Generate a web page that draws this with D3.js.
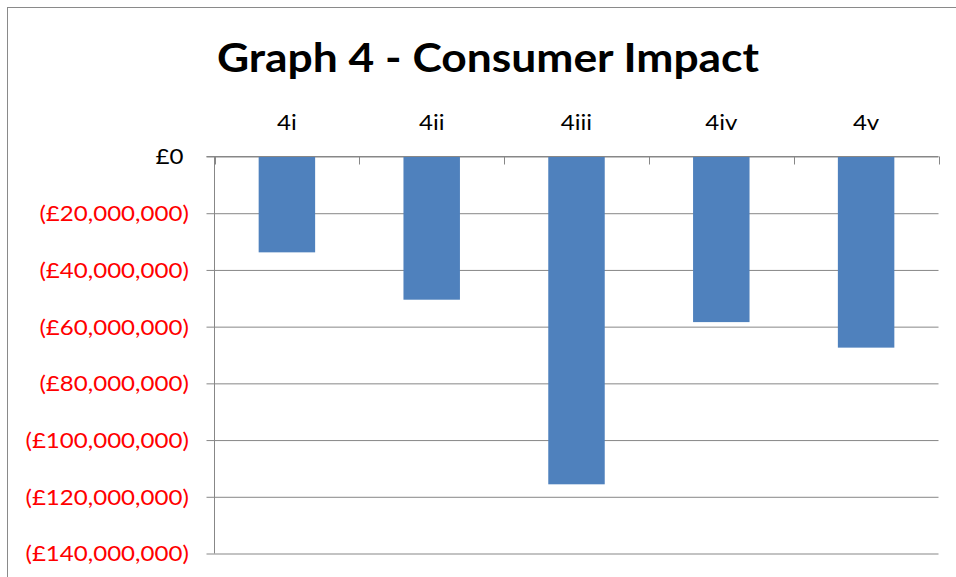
<!DOCTYPE html>
<html>
<head>
<meta charset="utf-8">
<script src="https://cdn.jsdelivr.net/npm/d3@7"></script>
<style>
  html, body { margin: 0; padding: 0; background: #fff; }
  svg { display: block; }
  text { font-family: Lato, "Open Sans", sans-serif; }
</style>
</head>
<body>
<svg id="chart" width="956" height="577"></svg>
<script>
// ---- data ----
const title = "Graph 4 - Consumer Impact";
const categories = ["4i", "4ii", "4iii", "4iv", "4v"];
const values = [-33.8e6, -50.5e6, -115.6e6, -58.4e6, -67.4e6];
const yTicks = [0, -20e6, -40e6, -60e6, -80e6, -100e6, -120e6, -140e6];
const yTickLabels = ["£0", "(£20,000,000)", "(£40,000,000)", "(£60,000,000)", "(£80,000,000)", "(£100,000,000)", "(£120,000,000)", "(£140,000,000)"];

// ---- layout ----
const svg = d3.select("#chart");
const pLeft = 214.5, pRight = 938.5, pTop = 156.5, pBottom = 553.5;
const gridColor = "#878787";
const labelSize = 20.5;

svg.append("rect")
  .attr("x", 7.5).attr("y", 7.5)
  .attr("width", 1000).attr("height", 700)
  .attr("fill", "none").attr("stroke", "#8a8a8a").attr("stroke-width", 1);

const x = d3.scaleBand().domain(categories).range([pLeft, pRight])
  .paddingInner(0.61).paddingOuter(0.305);
const y = d3.scaleLinear().domain([-140e6, 0]).range([pBottom, pTop]);

// measure horizontal stretch so that label widths match the original rendering
const probe = svg.append("text").attr("font-size", labelSize).text("(£20,000,000)");
const stretch = 149.4 / probe.node().getComputedTextLength();
probe.remove();

// gridlines + y ticks
const yAxis = d3.axisLeft(y)
  .tickValues(yTicks)
  .tickSize(8)
  .tickFormat((d, i) => yTickLabels[i]);
const gy = svg.append("g").attr("transform", `translate(${pLeft},0)`).call(yAxis);
gy.select(".domain").remove();
gy.selectAll(".tick line").attr("stroke", gridColor).attr("x1", -8).attr("x2", pRight - pLeft);
gy.selectAll(".tick text")
  .attr("font-size", labelSize)
  .attr("font-family", "Lato, sans-serif")
  .attr("text-anchor", "start")
  .attr("dy", "0.36em")
  .attr("fill", (d) => d < 0 ? "#ff0000" : "#000")
  .each(function (d) {
    const w = this.getComputedTextLength() * stretch;
    const endX = (d === 0 ? 183.5 : 188.8) - pLeft;
    d3.select(this)
      .attr("textLength", w)
      .attr("lengthAdjust", "spacingAndGlyphs")
      .attr("x", endX - w);
  });

// left axis line
svg.append("line")
  .attr("x1", pLeft).attr("x2", pLeft).attr("y1", pTop).attr("y2", pBottom)
  .attr("stroke", gridColor);

// bars
svg.append("g").selectAll("rect").data(categories).join("rect")
  .attr("x", (d) => x(d))
  .attr("width", x.bandwidth())
  .attr("y", (d, i) => y(0))
  .attr("height", (d, i) => y(values[i]) - y(0))
  .attr("fill", "#4f81bd");

// category axis at zero with ticks pointing down at band boundaries
const bounds = categories.map((c) => x(c) - x.step() * x.paddingOuter()).concat([pRight]);
svg.append("line")
  .attr("x1", pLeft - 8).attr("x2", pRight).attr("y1", y(0)).attr("y2", y(0))
  .attr("stroke", gridColor);
svg.append("g").selectAll("line").data(bounds).join("line")
  .attr("x1", (d) => Math.round(d) + 0.5).attr("x2", (d) => Math.round(d) + 0.5)
  .attr("y1", y(0)).attr("y2", y(0) + 8)
  .attr("stroke", gridColor);

// category labels above
svg.append("g").selectAll("text").data(categories).join("text")
  .attr("font-size", labelSize)
  .attr("fill", "#000")
  .attr("y", 130)
  .text((d) => d)
  .each(function (d) {
    const w = this.getComputedTextLength() * stretch;
    const cx = x(d) + x.bandwidth() / 2;
    d3.select(this)
      .attr("textLength", w)
      .attr("lengthAdjust", "spacingAndGlyphs")
      .attr("x", cx - w / 2);
  });

// title
svg.append("text")
  .attr("x", 217).attr("y", 72)
  .attr("font-size", 41)
  .attr("font-weight", "bold")
  .attr("fill", "#000")
  .attr("textLength", 542)
  .attr("lengthAdjust", "spacingAndGlyphs")
  .text(title);
</script>
</body>
</html>
